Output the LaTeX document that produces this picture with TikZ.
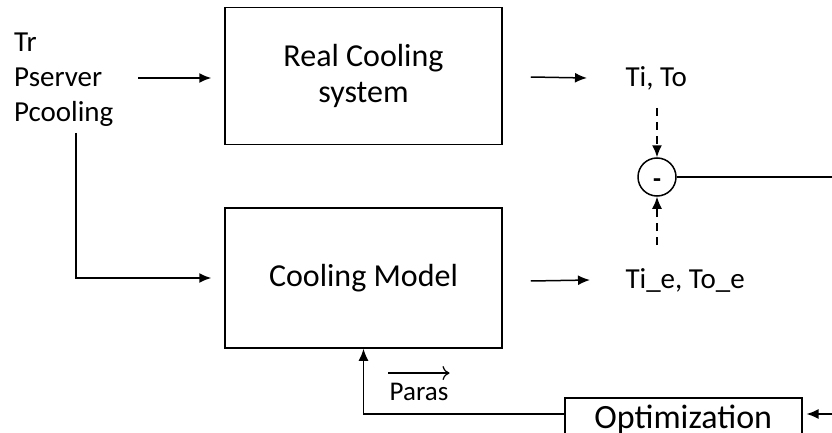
\documentclass[tikz,border=0pt]{standalone}
\usepackage{fontspec}
\setmainfont{Carlito}
\usetikzlibrary{arrows.meta,positioning,calc}

\tikzset{
  block/.style={draw, line width=1.5pt, minimum width=277pt, align=center,
                font=\fontsize{32}{36}\selectfont},
  sig/.style={-{Latex[length=12pt,width=10pt]}, line width=1.5pt},
  lbl/.style={anchor=west, font=\fontsize{29}{35}\selectfont},
  dash line/.style={dash pattern=on 8pt off 6pt},
}

\begin{document}
\begin{tikzpicture}[x=1pt, y=-1pt]
  \useasboundingbox (0,0) rectangle (832,433);
  \clip (0,0) rectangle (832,433);

  % inputs
  \node[lbl, align=left, inner sep=0pt] (inp) at (14,80) {Tr\\Pserver\\Pcooling};
  \coordinate (inA) at (138,78);
  \coordinate (inB) at (76,133);

  % plant and model
  \node[block, minimum height=137pt] (real) at (363.5,76) {Real Cooling\\system};
  \node[block, minimum height=140pt] (model) at (363.5,278) {Cooling Model};

  \draw[sig] (inA) -- ($(real.west |- inA)+(-13,0)$);
  \draw[sig] (inB) |- ($(model.west)+(-13,0)$);

  % outputs
  \node[lbl] (meas) at (622,78) {Ti, To};
  \node[lbl] (est) at (622,280) {Ti\_e, To\_e};
  \draw[sig] ($(real.east)+(28,1)$) -- ($(meas.west)+(-35,0)$);
  \draw[sig] ($(model.east)+(28,3)$) -- ($(est.west)+(-32,0)$);

  % comparison
  \node[circle, draw, line width=1.5pt, minimum size=38pt, inner sep=0pt,
        text height=21pt, text depth=0pt,
        font=\fontsize{26}{26}\selectfont\bfseries] (sub) at (657,177) {-};
  \draw[sig, dash line] (657,108) -- (sub.north);
  \draw[sig, dash line] (657,245) -- (sub.south);
  \coordinate (rEdge) at (832,177);
  \draw[line width=1.5pt] (sub.east) -- (rEdge);

  % optimization feedback
  \node[draw, line width=1.5pt, minimum width=237pt, minimum height=38pt, anchor=north west,
        inner sep=0pt, text height=22.5pt, text depth=0pt,
        font=\fontsize{34}{34}\selectfont] (opt) at (564,397) {Optimization};
  \coordinate (optIn) at (832,414);
  \draw[sig] (optIn) -- ($(optIn -| opt.east)+(4,0)$);
  \draw[sig] (opt.west |- optIn) -| (model.south);
  \node[font=\fontsize{27}{27}\selectfont, inner sep=1pt] (paras) at (419,392) {Paras};
  \draw[-{To[length=7pt,width=14pt]}, line width=1.2pt]
    ($(paras.north west)+(0,-9)$) -- ($(paras.north east)+(0,-9)$);
\end{tikzpicture}
\end{document}
